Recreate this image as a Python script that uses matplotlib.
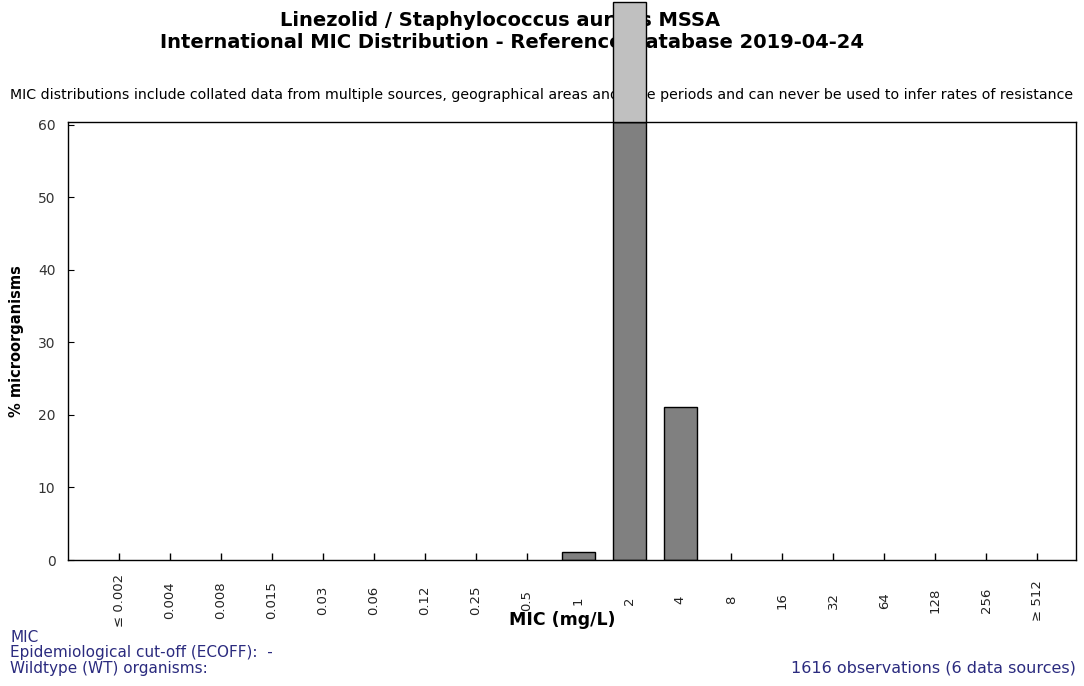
import matplotlib
matplotlib.use("Agg")
import matplotlib.pyplot as plt
import numpy as np

# MIC classes and % of organisms in each class
mic_labels = ["≤ 0.002", "0.004", "0.008", "0.015", "0.03", "0.06", "0.12", "0.25", "0.5",
              "1", "2", "4", "8", "16", "32", "64", "128", "256", "≥ 512"]
pct = [0, 0, 0, 0, 0, 0, 0, 0, 0, 1.1, 76.9, 21.1, 0, 0, 0, 0, 0, 0, 0]
y_top = 60.35
y_ticks = [0, 10, 20, 30, 40, 50, 60]

title1 = "Linezolid / Staphylococcus aureus MSSA"
title2 = "International MIC Distribution - Reference Database 2019-04-24"
note = ("MIC distributions include collated data from multiple sources, geographical areas and time "
        "periods and can never be used to infer rates of resistance")
n_obs = 1616
n_src = 6

plt.rcParams['font.family'] = ['DejaVu Sans']

fig = plt.figure(figsize=(10.84, 6.86), dpi=100)
ax = fig.add_axes([68/1084, 1 - 560/686, (1076-68)/1084, (560-122)/686])
ax.set_zorder(5)  # so the tall bar is drawn over the titles, as in the original

x = np.arange(len(mic_labels))
vals = np.array(pct)
has = vals > 0
inside = np.minimum(vals, y_top)
ax.bar(x[has], inside[has], width=0.65, color="#808080", edgecolor="black", linewidth=1, zorder=2)
# part of the bars that goes above the axis top, drawn lighter and unclipped
over = vals > y_top
ax.bar(x[over], vals[over] - y_top, bottom=y_top, width=0.65, color="#c0c0c0",
       edgecolor="black", linewidth=1, clip_on=False, zorder=5)

ax.set_xlim(-1, 18.76)
ax.set_ylim(0, y_top)
ax.set_xticks(x)
ax.set_xticklabels(mic_labels, rotation=90, fontsize=9.5, color="#222222")
for lbl in ax.get_xticklabels():
    lbl.set_va("center")
ax.tick_params(axis="x", direction="in", length=5, pad=29, width=1)
ax.set_yticks(y_ticks)
ax.tick_params(axis="y", direction="in", length=4, pad=9, labelsize=10)
for lbl in ax.get_yticklabels():
    lbl.set_color("#333333")
for s in ax.spines.values():
    s.set_linewidth(1)
    s.set_zorder(3)

ax.set_ylabel("% microorganisms", fontsize=10.5, fontweight="bold", labelpad=10)
fig.text(562/1084, 1 - 620/686, "MIC (mg/L)", fontsize=12.5, fontweight="bold",
         ha="center", va="center")

fig.text(500/1084, 1 - 21/686, title1, fontsize=14, fontweight="bold", ha="center", va="center")
fig.text(512/1084, 1 - 43/686, title2, fontsize=14, fontweight="bold", ha="center", va="center")
fig.text(10/1084, 1 - 95/686, note, fontsize=10.15, ha="left", va="center")

blue = "#2b2b7f"
fig.text(10/1084, 1 - 638/686, "MIC", fontsize=11, color=blue, ha="left", va="center")
fig.text(10/1084, 1 - 653/686, "Epidemiological cut-off (ECOFF):  -", fontsize=11, color=blue,
         ha="left", va="center")
fig.text(10/1084, 1 - 668/686, "Wildtype (WT) organisms:", fontsize=11, color=blue,
         ha="left", va="center")
fig.text(1076/1084, 1 - 668/686, f"{n_obs} observations ({n_src} data sources)", fontsize=11.5,
         color=blue, ha="right", va="center")

fig.savefig("out.png", dpi=100)
